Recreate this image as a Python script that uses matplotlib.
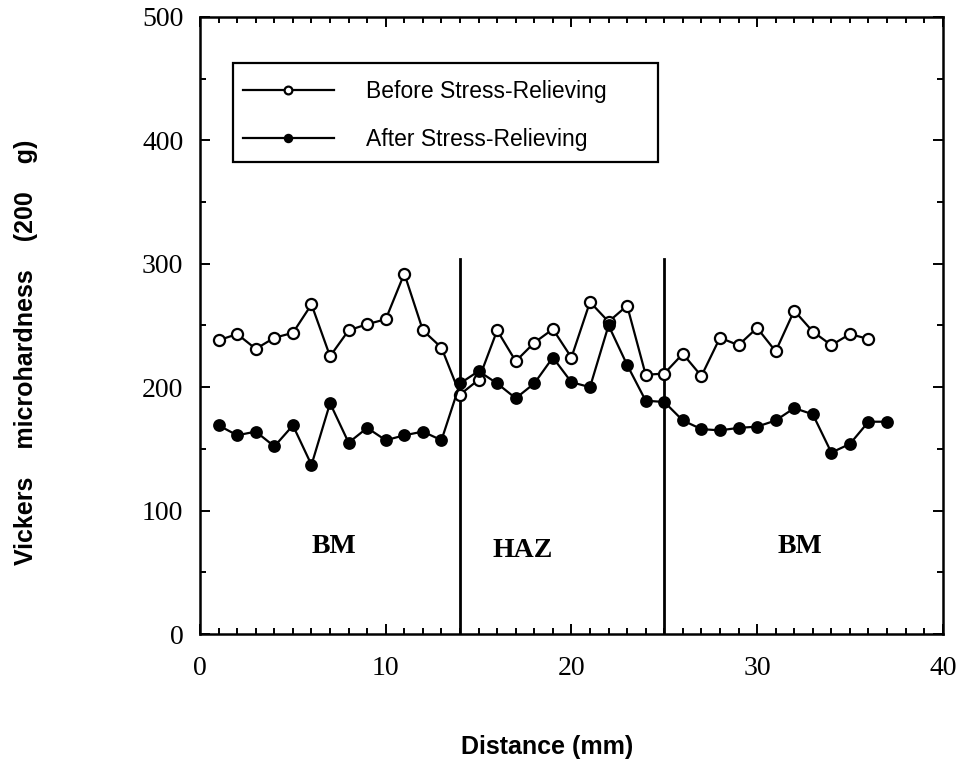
import matplotlib
matplotlib.use("Agg")
import matplotlib.pyplot as plt
from matplotlib.patches import Rectangle
from matplotlib.ticker import MultipleLocator

# Microhardness profile across the weld zones
distance_before = list(range(1, 37))
hv_before = [238, 243, 231, 240, 244, 267, 225, 246, 251, 255, 292, 246,
             232, 194, 206, 246, 221, 236, 247, 224, 269, 253, 266, 210,
             211, 227, 209, 240, 234, 248, 229, 262, 245, 234, 243, 239]

distance_after = list(range(1, 38))
hv_after = [169, 161, 164, 152, 169, 137, 187, 155, 167, 157, 161, 164,
            157, 203, 213, 203, 191, 203, 224, 204, 200, 250, 218, 189,
            188, 173, 166, 165, 167, 168, 173, 183, 178, 147, 154, 172, 172]

zone_bounds = [14, 25]
zone_top = 304
zone_labels = ["BM", "HAZ", "BM"]
zone_label_x = [7.2, 17.4, 32.3]
zone_label_y = [71, 68, 71]

serif = ["Liberation Serif", "DejaVu Serif"]
sans = ["Liberation Sans", "DejaVu Sans"]

fig = plt.figure(figsize=(9.62, 7.63), dpi=100)
ax = fig.add_axes([0.208, 0.169, 0.772, 0.809])

ax.plot(distance_before, hv_before, color="black", lw=1.6, marker="o",
        ms=8, mfc="white", mec="black", mew=1.6,
        label="Before Stress-Relieving", zorder=3)
ax.plot(distance_after, hv_after, color="black", lw=1.6, marker="o",
        ms=8, mfc="black", mec="black", mew=1.2,
        label="After Stress-Relieving", zorder=4)

for xb in zone_bounds:
    ax.plot([xb, xb], [0, zone_top], color="black", lw=2.0, zorder=2)

for lab, lx, ly in zip(zone_labels, zone_label_x, zone_label_y):
    ax.text(lx, ly, lab, ha="center", va="center", fontsize=20,
            fontweight="bold", family=serif)

ax.set_xlim(0, 40)
ax.set_ylim(0, 500)
ax.xaxis.set_major_locator(MultipleLocator(10))
ax.xaxis.set_minor_locator(MultipleLocator(1))
ax.yaxis.set_major_locator(MultipleLocator(100))
ax.yaxis.set_minor_locator(MultipleLocator(50))

ax.tick_params(which="both", direction="in", top=True, right=True,
               width=1.4, colors="black")
ax.tick_params(which="major", length=7)
ax.tick_params(which="minor", length=4)
ax.tick_params(axis="x", which="major", pad=16)
ax.tick_params(axis="y", which="major", pad=12)

for lbl in ax.get_xticklabels() + ax.get_yticklabels():
    lbl.set_family(serif)
    lbl.set_fontsize(20)

for sp in ax.spines.values():
    sp.set_linewidth(1.8)

ax.set_xlabel("Distance (mm)", fontsize=18, fontweight="bold", family=sans)
ax.xaxis.set_label_coords(0.467, -0.163)
ax.set_ylabel("Vickers    microhardness    (200    g)", fontsize=18,
              fontweight="bold", family=sans)
ax.yaxis.set_label_coords(-0.218, 0.457)

# legend entries without their own frame; the box is drawn separately
leg = ax.legend(loc="upper left", bbox_to_anchor=(0.058, 0.898),
                frameon=False, handlelength=3.95, handletextpad=1.4,
                labelspacing=1.12, borderpad=0, borderaxespad=0,
                prop={"family": sans, "size": 16.5}, markerscale=0.7)
ax.add_patch(Rectangle((0.0444, 0.765), 0.5716, 0.160,
                       transform=ax.transAxes, fill=False,
                       edgecolor="black", lw=1.6, zorder=5))

fig.savefig("out.png", dpi=100)
